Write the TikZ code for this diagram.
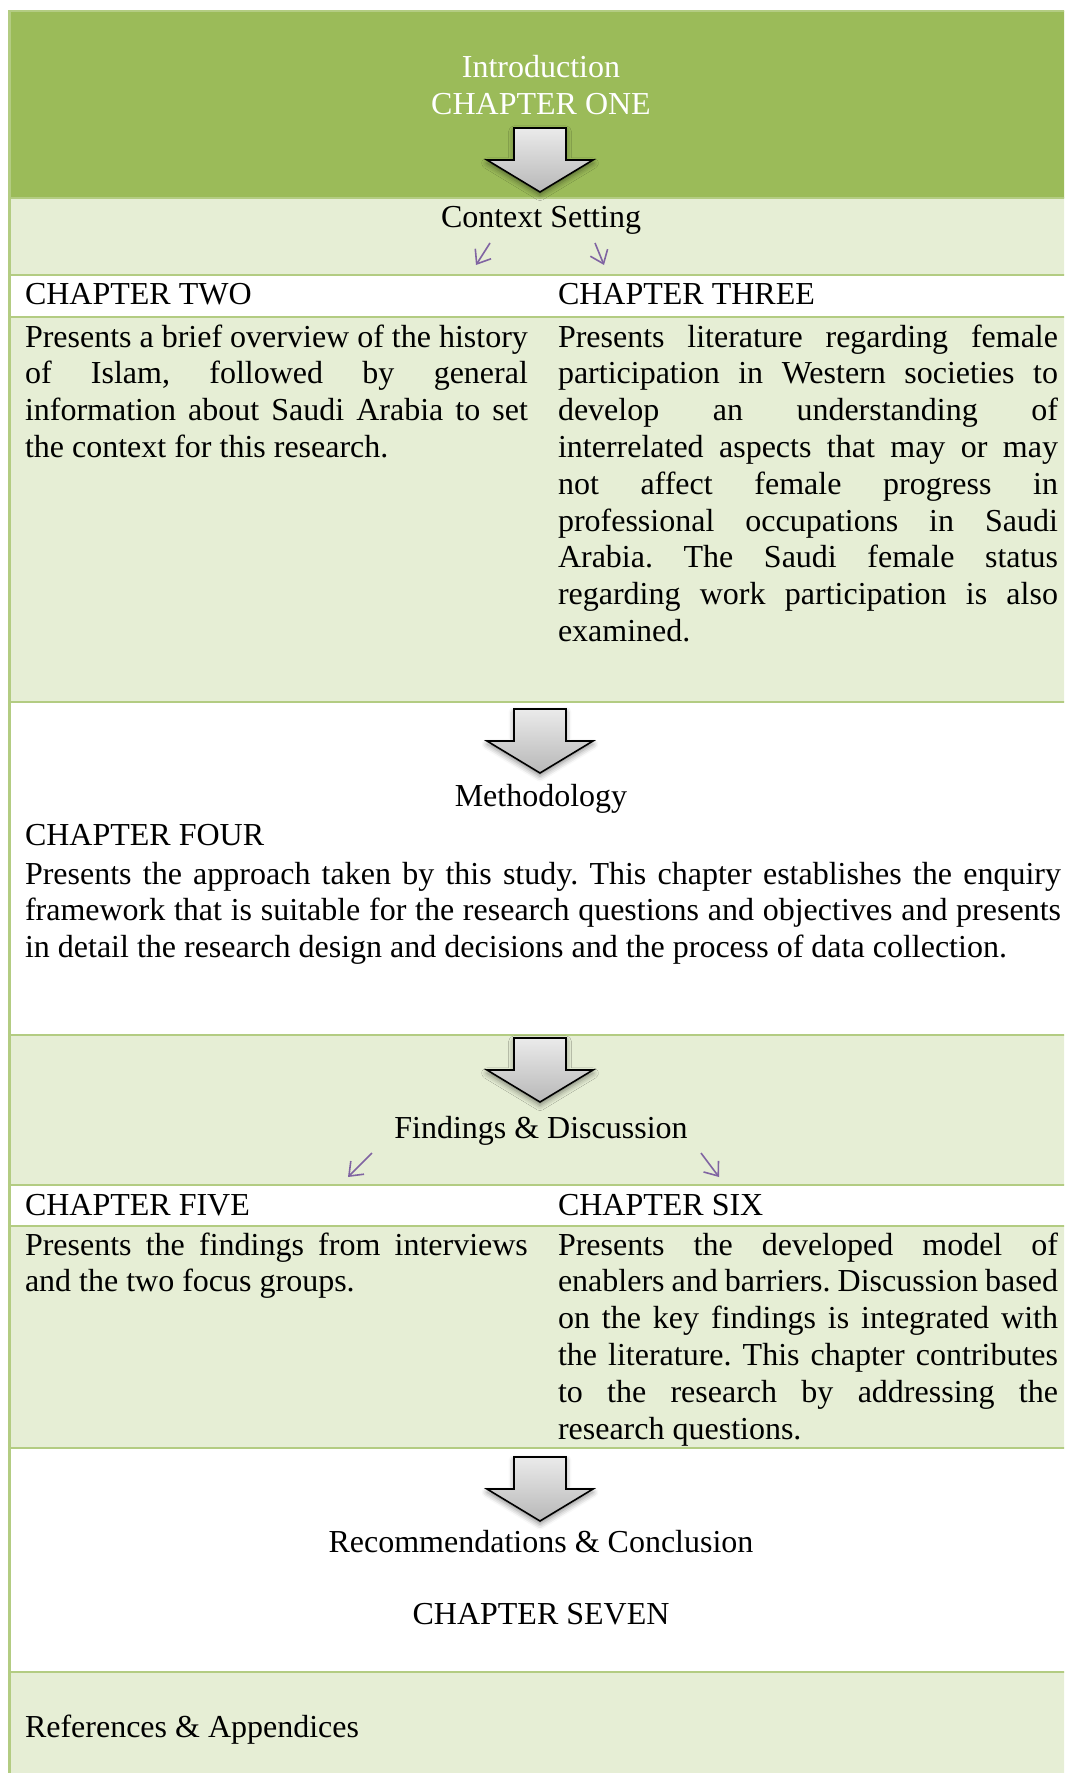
\documentclass[tikz,border=0pt]{standalone}
\usepackage{fontspec}
\setmainfont{Liberation Serif}
\usetikzlibrary{arrows.meta,shadows.blur}
\frenchspacing

\definecolor{hdrgreen}{HTML}{9BBB59}
\definecolor{bandgreen}{HTML}{E6EED5}
\definecolor{rulegreen}{HTML}{B3CC82}
\definecolor{linkpurple}{HTML}{8064A2}

% justified paragraphs: no hyphenation, accept wide word spacing
\newcommand\plainjustify{\tolerance=10000\relax\hyphenpenalty=10000\relax\exhyphenpenalty=10000\relax}

\begin{document}
\begin{tikzpicture}[x=0.375pt,y=-0.375pt,
  every node/.style={font=\fontsize{12pt}{13.8pt}\selectfont,inner sep=0pt,outer sep=0pt},
  label/.style={anchor=base},
  lefttext/.style={anchor=base west},
  para/.style={anchor=base west,align=justify,text width=#1},
  band/.style={fill=bandgreen},
  rule/.style={draw=rulegreen,line width=1.1pt},
  branch/.style={draw=linkpurple,line width=0.6pt,-{Straight Barb[length=4.5pt,width=7pt]}},
  bigdown/.pic={
    \path[draw=black,line width=0.6pt,line join=miter,
          top color=white!92!black,bottom color=black!28,
          blur shadow={shadow xshift=0pt,shadow yshift=-1.2pt,shadow blur radius=2pt,shadow opacity=45}]
      (-26,0) -- (26,0) -- (26,32) -- (53,32) -- (0,64) -- (-53,32) -- (-26,32) -- cycle;
  }]
\useasboundingbox (0,0) rectangle (1064,1773);
\clip (0,0) rectangle (1064,1773);

% table rows
\fill[hdrgreen] (9,11) rectangle (1090,198);
\fill[band] (9,198) rectangle (1090,275);
\fill[band] (9,317) rectangle (1090,702);
\fill[band] (9,1035) rectangle (1090,1185);
\fill[band] (9,1226) rectangle (1090,1448);
\fill[band] (9,1672) rectangle (1090,1800);

% table rules
\draw[rule] (9.5,1800) -- (9.5,11) -- (1090,11);
\foreach \y in {198,275,317,702,1035,1185,1226,1448,1672}
  \draw[rule] (9.5,\y) -- (1090,\y);

% chapter one
\node[label,text=white] (intro) at (541,78) {Introduction};
\node[label,text=white] (ch1) at (541,115) {CHAPTER ONE};
\pic at (540,128) {bigdown};

% context setting
\node[label] (ctx) at (541,227) {Context Setting};
\coordinate (ctxL1) at (490,243);
\coordinate (ctxL2) at (476,265);
\coordinate (ctxR1) at (595,243);
\coordinate (ctxR2) at (604,265);
\draw[branch] (ctxL1) -- (ctxL2);
\draw[branch] (ctxR1) -- (ctxR2);

\node[lefttext] (ch2) at (25,304) {CHAPTER TWO};
\node[lefttext] (ch3) at (558,304) {CHAPTER THREE};
\node[para=188.6pt] (p2) at (25,347) {\plainjustify Presents a brief overview of the history\linebreak
  of Islam, followed by general\linebreak
  information about Saudi Arabia to set\linebreak
  the context for this research.};
\node[para=187.5pt] (p3) at (558,347) {\plainjustify Presents literature regarding female\linebreak
  participation in Western societies to\linebreak
  develop an understanding of\linebreak
  interrelated aspects that may or may\linebreak
  not affect female progress in\linebreak
  professional occupations in Saudi\linebreak
  Arabia. The Saudi female status\linebreak
  regarding work participation is also\linebreak
  examined.};

% methodology
\pic at (540,709) {bigdown};
\node[label] (meth) at (541,806) {Methodology};
\node[lefttext] (ch4) at (25,845) {CHAPTER FOUR};
\node[para=388.5pt] (p4) at (25,884) {\plainjustify Presents the approach taken by this study. This chapter establishes the enquiry\linebreak
  framework that is suitable for the research questions and objectives and presents\linebreak
  in detail the research design and decisions and the process of data collection.};

% findings and discussion
\pic at (540,1038) {bigdown};
\node[label] (find) at (541,1138) {Findings \& Discussion};
\coordinate (fdL1) at (372,1153);
\coordinate (fdL2) at (348,1177);
\coordinate (fdR1) at (701,1153);
\coordinate (fdR2) at (719,1177);
\draw[branch] (fdL1) -- (fdL2);
\draw[branch] (fdR1) -- (fdR2);

\node[lefttext] (ch5) at (25,1215) {CHAPTER FIVE};
\node[lefttext] (ch6) at (558,1215) {CHAPTER SIX};
\node[para=188.6pt] (p5) at (25,1255) {\plainjustify Presents the findings from interviews\linebreak
  and the two focus groups.};
\node[para=187.5pt] (p6) at (558,1255) {\plainjustify Presents the developed model of\linebreak
  enablers and barriers. Discussion based\linebreak
  on the key findings is integrated with\linebreak
  the literature. This chapter contributes\linebreak
  to the research by addressing the\linebreak
  research questions.};

% recommendations and conclusion
\pic at (540,1457) {bigdown};
\node[label] (rec) at (541,1552) {Recommendations \& Conclusion};
\node[label] (ch7) at (541,1624) {CHAPTER SEVEN};

% back matter
\node[lefttext] (refs) at (25,1737) {References \& Appendices};
\end{tikzpicture}
\end{document}
